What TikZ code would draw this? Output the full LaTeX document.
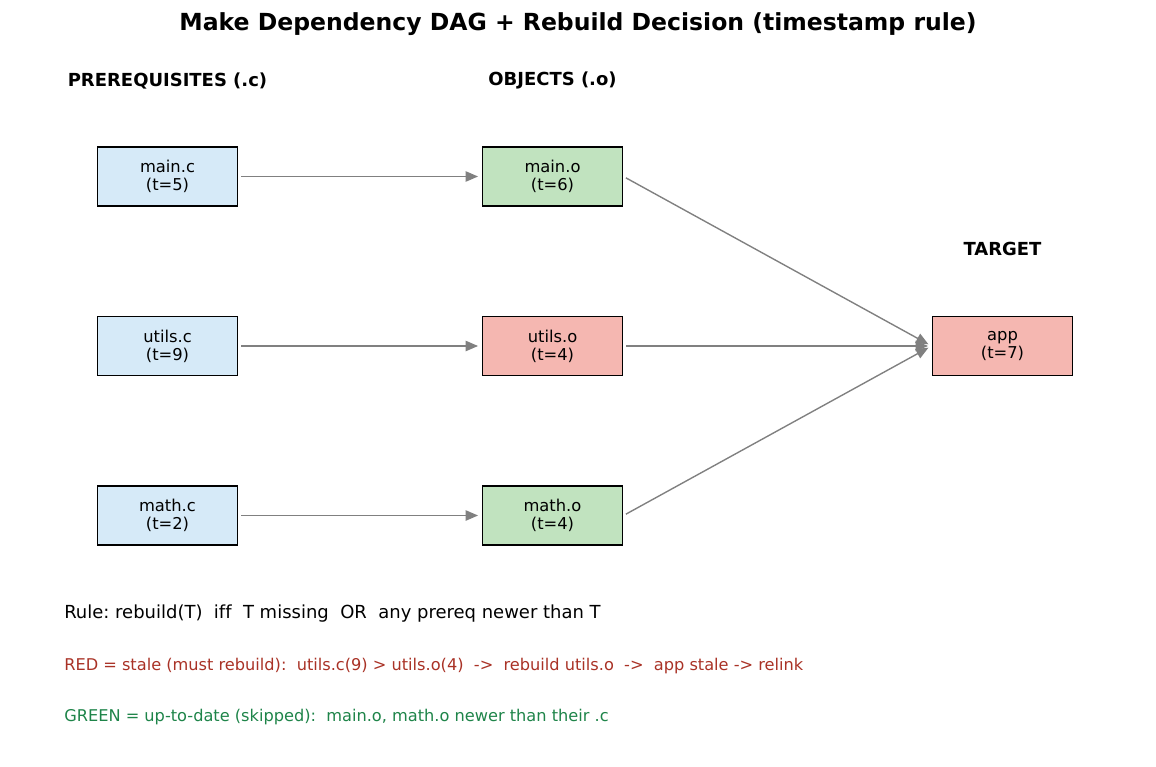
\documentclass[tikz,border=0pt]{standalone}
\usepackage{fontspec}
\setmainfont[Ligatures=NoCommon]{DejaVu Sans}
\usetikzlibrary{arrows.meta}
\frenchspacing
\definecolor{srcblue}{HTML}{D6EAF8}
\definecolor{okgreen}{HTML}{C1E3BF}
\definecolor{stalered}{HTML}{F5B7B1}
\definecolor{redtext}{HTML}{A93226}
\definecolor{greentext}{HTML}{1E8449}
\tikzset{
  filebox/.style={draw=black, line width=1.1pt, minimum width=141*0.72pt,
    minimum height=59*0.72pt, inner sep=0pt, align=center,
    font=\fontsize{11.8}{13}\selectfont, fill=#1},
  header/.style={font=\fontsize{13}{15}\selectfont\bfseries},
  dep/.style={draw=gray, line width=1pt,
    -{Triangle[length=9pt,width=7.5pt]}, shorten <=2pt, shorten >=2.5pt},
  note/.style={anchor=west, inner sep=0pt}
}
\begin{document}
\begin{tikzpicture}[x=0.0254cm,y=-0.0254cm]
\useasboundingbox (0,0) rectangle (1156,766);
\node[font=\fontsize{17}{19}\selectfont\bfseries] (title) at (578,24)
  {Make Dependency DAG + Rebuild Decision (timestamp rule)};
% column headers
\node[header] (hsrc) at (167.5,81) {PREREQUISITES (.c)};
\node[header] (hobj) at (552.5,80) {OBJECTS (.o)};
\node[header] (htgt) at (1002.5,249) {TARGET};
% sources
\node[filebox=srcblue] (mainc) at (167.5,176.5) {main.c\\(t=5)};
\node[filebox=srcblue] (utilsc) at (167.5,346) {utils.c\\(t=9)};
\node[filebox=srcblue] (mathc) at (167.5,515.5) {math.c\\(t=2)};
% objects
\node[filebox=okgreen] (maino) at (552.5,176.5) {main.o\\(t=6)};
\node[filebox=stalered] (utilso) at (552.5,346) {utils.o\\(t=4)};
\node[filebox=okgreen] (matho) at (552.5,515.5) {math.o\\(t=4)};
% target
\node[filebox=stalered] (app) at (1002.5,346) {app\\(t=7)};
\foreach \f in {main,utils,math} {
  \draw[dep] (\f c) -- (\f o);
  \draw[dep] (\f o.east) -- (app.west);
}
% legend
\node[note, font=\fontsize{13}{15}\selectfont] (rule) at (64,614)
  {Rule: rebuild(T)\ \ iff\ \ T missing\ \ OR\ \ any prereq newer than T};
\node[note, font=\fontsize{11.7}{13}\selectfont, text=redtext] (red) at (64,666)
  {RED = stale (must rebuild):\ \ utils.c(9) > utils.o(4)\ \ ->\ \ rebuild utils.o\ \ ->\ \ app stale -> relink};
\node[note, font=\fontsize{11.7}{13}\selectfont, text=greentext] (green) at (64,717)
  {GREEN = up-to-date (skipped):\ \ main.o, math.o newer than their .c};
\end{tikzpicture}
\end{document}
